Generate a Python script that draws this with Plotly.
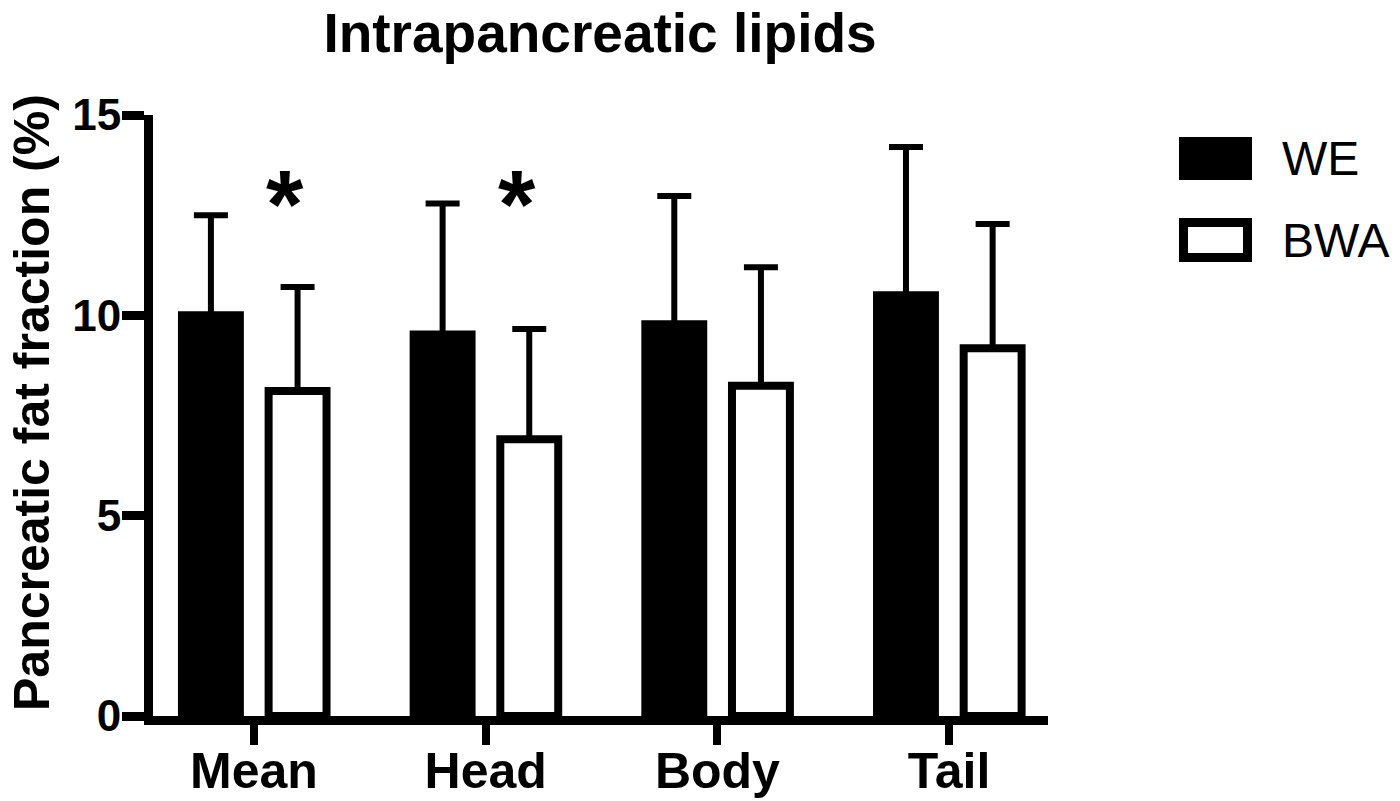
import plotly.graph_objects as go

# ---- data ----
categories = ["Mean", "Head", "Body", "Tail"]
we_values = [10.0, 9.52, 9.78, 10.5]
we_errors = [2.5, 3.27, 3.2, 3.7]
bwa_values = [8.11, 6.91, 8.24, 9.18]
bwa_errors = [2.6, 2.75, 2.96, 3.1]
significant = ["Mean", "Head"]
star_level = 13.1
y_ticks = [0, 5, 10, 15]

FONT = "Liberation Sans, Arial, Helvetica, sans-serif"

# plot area in pixels
L, R, T, B = 153, 1048, 115, 716
W, H = 1400, 801


def px_x(p):
    return (p - L) / (R - L)


def px_y(p):
    return (B - p) / (B - T)


fig = go.Figure()
fig.add_trace(go.Bar(
    x=categories, y=we_values, name="WE",
    width=0.25, offset=-0.311,
    marker=dict(color="black", line=dict(color="black", width=8)),
    error_y=dict(type="data", array=we_errors, arrayminus=[0] * len(we_errors),
                 symmetric=False, color="black", thickness=6, width=17),
    showlegend=False,
))
fig.add_trace(go.Bar(
    x=categories, y=bwa_values, name="BWA",
    width=0.25, offset=0.063,
    marker=dict(color="white", line=dict(color="black", width=8)),
    error_y=dict(type="data", array=bwa_errors, arrayminus=[0] * len(bwa_errors),
                 symmetric=False, color="black", thickness=6, width=17),
    showlegend=False,
))

# significance stars
for cat in significant:
    i = categories.index(cat)
    fig.add_annotation(x=i + 0.135, y=star_level, xref="x", yref="y",
                       text="<b>*</b>", showarrow=False,
                       font=dict(family=FONT, size=96, color="black"),
                       xanchor="center", yanchor="middle", yshift=-12)

# y-axis title
fig.add_annotation(x=px_x(32), y=px_y(403), xref="paper", yref="paper",
                   text="<b>Pancreatic fat fraction (%)</b>", textangle=-90,
                   showarrow=False, font=dict(family=FONT, size=50, color="black"),
                   xanchor="center", yanchor="middle")

# legend (drawn manually)
fig.add_shape(type="rect", xref="paper", yref="paper",
              x0=px_x(1179), x1=px_x(1252), y0=px_y(180), y1=px_y(137),
              fillcolor="black", line=dict(width=0))
fig.add_shape(type="rect", xref="paper", yref="paper",
              x0=px_x(1183.5), x1=px_x(1247.5), y0=px_y(257.5), y1=px_y(222.5),
              fillcolor="white", line=dict(color="black", width=9))
for label, yc in [("WE", 158), ("BWA", 240)]:
    fig.add_annotation(x=px_x(1280), y=px_y(yc), xref="paper", yref="paper",
                       text=label, showarrow=False,
                       font=dict(family=FONT, size=48, color="black"),
                       xanchor="left", yanchor="middle")

fig.update_layout(
    width=W, height=H,
    margin=dict(l=L, r=W - R, t=T, b=H - B, autoexpand=False),
    paper_bgcolor="white", plot_bgcolor="white",
    barmode="overlay",
    title=dict(text="<b>Intrapancreatic lipids</b>", x=600 / W, xanchor="center",
               y=1 - 33 / H, yanchor="middle",
               font=dict(family=FONT, size=55, color="black")),
    xaxis=dict(
        range=[-0.436, 3.427], showline=True, linecolor="black", linewidth=9,
        ticks="outside", ticklen=20, tickwidth=8, tickcolor="black",
        showgrid=False, zeroline=False, ticklabelstandoff=-17,
        tickfont=dict(family=FONT, size=50, color="black", weight="bold"),
    ),
    yaxis=dict(
        range=[0, 15], showline=True, linecolor="black", linewidth=9,
        tickvals=y_ticks, ticks="outside", ticklen=22, tickwidth=9, tickcolor="black",
        showgrid=False, zeroline=False, ticklabelstandoff=-8,
        tickfont=dict(family=FONT, size=44, color="black", weight="bold"),
    ),
)

fig.write_html(
    "out.html",
    config={"displayModeBar": False},
    post_script="document.body.style.margin='0';document.body.style.overflow='hidden';",
)
